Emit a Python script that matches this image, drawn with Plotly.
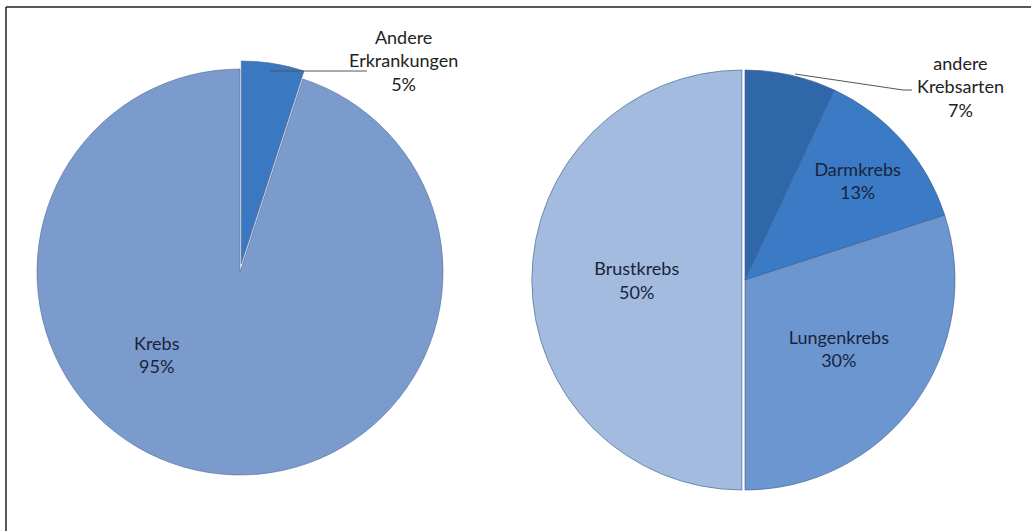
import plotly.graph_objects as go

W, H = 1031, 531

# ---- data ----
left_labels = ["Andere Erkrankungen", "Krebs"]
left_values = [5, 95]
right_labels = ["andere Krebsarten", "Darmkrebs", "Lungenkrebs", "Brustkrebs"]
right_values = [7, 13, 30, 50]

# ---- styles ----
left_colors = ["#3b78c2", "#7b9bcc"]
right_colors = ["#2f67a9", "#3b7bc5", "#6c96d0", "#a2bbde"]
left_pull = [0.04, 0.0]
right_pull = [0.0, 0.0, 0.0, 0.015]
txt_color = "#1a233c"
FONT = "Lato"
FS = 18


def dom(cx, cy, r, pull):
    s = r * (1 + max(pull))
    return dict(x=[(cx - s) / W, (cx + s) / W],
                y=[(H - cy - s) / H, (H - cy + s) / H])


fig = go.Figure()
fig.add_trace(go.Pie(
    labels=left_labels, values=left_values, sort=False, direction="clockwise",
    rotation=0, pull=left_pull, domain=dom(240, 272, 203, left_pull),
    marker=dict(colors=left_colors, line=dict(color="rgba(70,100,150,0.55)", width=1)),
    textposition="none",
    showlegend=False, hoverinfo="label+percent",
))
fig.add_trace(go.Pie(
    labels=right_labels, values=right_values, sort=False, direction="clockwise",
    rotation=0, pull=right_pull, domain=dom(745, 280, 210, right_pull),
    marker=dict(colors=right_colors, line=dict(color="rgba(60,90,140,0.6)", width=1)),
    textposition=["none", "inside", "inside", "inside"], insidetextorientation="horizontal",
    texttemplate="%{label}<br>%{percent:.0%}",
    textfont=dict(family=FONT, size=FS, color=txt_color),
    showlegend=False, hoverinfo="label+percent",
))

def px(x):
    return x / W

def py(y):
    return 1 - y / H

annotations = [
    dict(x=px(157), y=py(354), text="%s<br>%d%%" % (left_labels[1], left_values[1]),
         font=dict(family=FONT, size=FS, color=txt_color)),
    dict(x=px(403), y=py(61), text="Andere<br>Erkrankungen<br>%d%%" % left_values[0],
         font=dict(family=FONT, size=FS, color="#222222")),
    dict(x=px(960), y=py(86), text="andere<br>Krebsarten<br>%d%%" % right_values[0],
         font=dict(family=FONT, size=FS, color="#222222")),
]
for a in annotations:
    a.update(xref="paper", yref="paper", showarrow=False, xanchor="center", yanchor="middle",
             align="center")

shapes = [
    # leader lines
    dict(type="path", path=f"M {px(270)} {py(71)} L {px(367)} {py(71)}",
         xref="paper", yref="paper", line=dict(color="#555555", width=1)),
    dict(type="path", path=f"M {px(795)} {py(74)} L {px(903)} {py(90)} L {px(912)} {py(90)}",
         xref="paper", yref="paper", line=dict(color="#555555", width=1)),
    # frame (top and left edges)
    dict(type="line", x0=px(6), y0=py(7), x1=1.0, y1=py(7), xref="paper", yref="paper",
         line=dict(color="#222222", width=1.5)),
    dict(type="line", x0=px(6), y0=py(7), x1=px(6), y1=0.0, xref="paper", yref="paper",
         line=dict(color="#222222", width=1.5)),
]

fig.update_layout(
    width=W, height=H, margin=dict(l=0, r=0, t=0, b=0),
    paper_bgcolor="white", plot_bgcolor="white",
    annotations=annotations, shapes=shapes,
)

fig.write_html("out.html", config={"displayModeBar": False},
               post_script="document.body.style.margin='0';document.body.style.padding='0';")
